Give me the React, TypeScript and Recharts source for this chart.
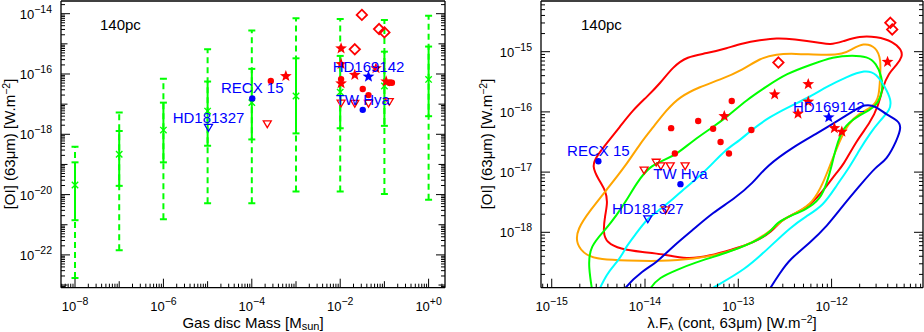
import React from 'react';
import { ComposedChart, Scatter, Line, XAxis, YAxis, ErrorBar } from 'recharts';

const FONT = '"Liberation Sans", Arial, Helvetica, sans-serif';
const RED = '#ff0000';
const BLUE = '#0000ff';
const GREEN = '#00ff00';
const ORANGE = '#ffa500';
const CYAN = '#00ffff';
const NAVY = '#0000dd';
const INK = '#000000';

const p10 = (e: number) => Math.pow(10, e);

// ---------------- LEFT PANEL (values are log10) ----------------
const leftXDomainExp = [-8.317, 0.371];
const leftYDomainExp = [-23.088, -13.579];
const leftXTickExps = [-8, -6, -4, -2, 0];
const leftXTickSup = ['\u22128', '\u22126', '\u22124', '\u22122', '+0'];
const leftYTickExps = [-22, -20, -18, -16, -14];
const leftYTickSup = ['\u221222', '\u221220', '\u221218', '\u221216', '\u221214'];

const gasMassExp = [-8, -7, -6, -5, -4, -3, -2, -1, 0];
const greenMidExp = [-19.68, -18.66, -17.86, -17.23, -16.95, -16.73, -16.6, -16.4, -16.18];
const greenInnerHiExp = [-18.93, -17.89, -16.95, -16.25, -15.83, -15.48, -15.4, -15.26, -15.09];
const greenInnerLoExp = [-20.85, -19.71, -18.93, -18.38, -18.17, -17.97, -17.8, -17.72, -17.4];
const greenOuterHiExp = [-18.41, -17.28, -16.16, -15.18, -14.56, -14.15, -14.18, -14.21, -14.07];
const greenOuterLoExp = [-22.77, -21.85, -20.82, -20.29, -20.29, -19.9, -19.9, -19.98, -20.17];

const leftRedStars = [[-3.23, -16.07], [-1.98, -15.15], [-1.98, -15.67], [-1.67, -16.03], [-1.19, -15.81], [-1.98, -16.31], [-0.96, -16.25]];
const leftRedDots = [[-3.57, -16.23], [-1.98, -16.17], [-1.49, -16.5], [-1.36, -16.7], [-0.89, -16.29], [-0.83, -16.29]];
const leftRedDiamonds = [[-1.51, -14.04], [-1.12, -14.51], [-1.0, -14.62], [-1.67, -15.18]];
const leftRedTriangles = [[-3.65, -17.66], [-1.98, -16.97], [-1.67, -16.98], [-1.36, -16.98], [-0.89, -16.92]];
const leftBlueStars = [[-1.36, -16.09]];
const leftBlueDots = [[-3.99, -16.81], [-1.49, -17.19]];
const leftBlueTriangles = [[-4.98, -17.78]];
const leftBlueNames = ['HD169142', 'RECX 15', 'TW Hya', 'HD181327'];
const leftBlueNamePos = [[-1.36, -16.09], [-3.99, -16.81], [-1.49, -17.19], [-4.98, -17.78]];

// ---------------- RIGHT PANEL (values are log10) ----------------
const rightXDomainExp = [-15.115, -11.02];
const rightYDomainExp = [-18.92, -14.158];
const rightXTickExps = [-15, -14, -13, -12];
const rightXTickSup = ['\u221215', '\u221214', '\u221213', '\u221212'];
const rightYTickExps = [-18, -17, -16, -15];
const rightYTickSup = ['\u221218', '\u221217', '\u221216', '\u221215'];

const redContour = [[-14.57, -16.9], [-14.5, -17.12], [-14.42, -17.31], [-14.4, -17.51], [-14.43, -17.73], [-14.45, -18.01], [-14.41, -18.17], [-14.27, -18.28], [-14.02, -18.33], [-13.81, -18.36], [-13.55, -18.45], [-13.3, -18.39], [-13.06, -18.28], [-12.84, -18.18], [-12.63, -17.98], [-12.55, -17.81], [-12.41, -17.7], [-12.23, -17.56], [-12.05, -17.23], [-11.95, -17.01], [-11.88, -16.9], [-11.73, -16.47], [-11.59, -16.19], [-11.5, -15.91], [-11.45, -15.58], [-11.39, -15.36], [-11.3, -15.22], [-11.24, -15.08], [-11.25, -14.97], [-11.34, -14.83], [-11.52, -14.75], [-11.7, -14.74], [-11.88, -14.83], [-12.02, -14.89], [-12.12, -14.85], [-12.41, -14.79], [-12.59, -14.77], [-12.77, -14.81], [-12.95, -14.86], [-13.12, -14.94], [-13.34, -15.03], [-13.55, -15.08], [-13.7, -15.25], [-13.84, -15.53], [-13.98, -15.75], [-14.13, -15.97], [-14.27, -16.25], [-14.41, -16.52], [-14.52, -16.74]];
const orangeContour = [[-14.21, -16.9], [-14.41, -17.29], [-14.58, -17.62], [-14.73, -17.95], [-14.74, -18.2], [-14.63, -18.39], [-14.48, -18.45], [-14.2, -18.47], [-13.84, -18.48], [-13.48, -18.45], [-13.12, -18.34], [-12.84, -18.17], [-12.63, -17.95], [-12.52, -17.78], [-12.37, -17.67], [-12.2, -17.51], [-12.09, -17.18], [-12.02, -16.9], [-11.91, -16.47], [-11.82, -16.19], [-11.7, -16.02], [-11.55, -15.91], [-11.49, -15.75], [-11.48, -15.42], [-11.47, -15.14], [-11.52, -14.92], [-11.66, -14.85], [-11.79, -14.97], [-11.88, -15.04], [-12.05, -15.06], [-12.41, -15.03], [-12.59, -15.04], [-12.77, -15.11], [-12.95, -15.3], [-13.2, -15.47], [-13.41, -15.58], [-13.63, -15.75], [-13.77, -15.97], [-13.91, -16.25], [-14.05, -16.52]];
const greenContour = [[-14.55, -19.12], [-14.61, -18.56], [-14.59, -18.23], [-14.42, -17.95], [-14.31, -17.73], [-14.19, -17.45], [-14.09, -17.18], [-13.95, -16.9], [-13.79, -16.8], [-13.65, -16.69], [-13.48, -16.47], [-13.27, -16.25], [-13.12, -16.08], [-12.91, -15.8], [-12.7, -15.58], [-12.48, -15.36], [-12.23, -15.22], [-11.98, -15.08], [-11.77, -15.06], [-11.62, -15.08], [-11.52, -15.19], [-11.46, -15.42], [-11.45, -15.64], [-11.5, -15.86], [-11.59, -15.97], [-11.73, -16.08], [-11.88, -16.25], [-11.96, -16.63], [-12.0, -16.9], [-12.05, -17.18], [-12.12, -17.45], [-12.27, -17.62], [-12.45, -17.73], [-12.59, -17.84], [-12.66, -18.01], [-12.84, -18.17], [-13.12, -18.34], [-13.48, -18.51], [-13.65, -18.62], [-13.85, -18.75], [-13.95, -18.93], [-14.0, -19.12]];
const cyanContour = [[-14.54, -19.12], [-14.41, -18.67], [-14.27, -18.45], [-14.2, -18.23], [-14.09, -18.01], [-13.98, -17.78], [-13.84, -17.62], [-13.7, -17.45], [-13.59, -17.29], [-13.44, -17.1], [-13.3, -16.9], [-13.14, -16.63], [-12.98, -16.47], [-12.86, -16.3], [-12.66, -16.08], [-12.45, -15.91], [-12.23, -15.75], [-12.05, -15.58], [-11.84, -15.42], [-11.64, -15.3], [-11.52, -15.36], [-11.43, -15.58], [-11.36, -15.8], [-11.37, -15.97], [-11.48, -16.14], [-11.59, -16.36], [-11.7, -16.63], [-11.8, -16.9], [-11.95, -17.23], [-12.09, -17.56], [-12.27, -17.73], [-12.45, -17.93], [-12.64, -18.21], [-12.93, -18.63], [-13.29, -18.93], [-13.41, -19.06]];
const blueContour = [[-14.28, -19.12], [-14.23, -18.93], [-14.02, -18.63], [-13.88, -18.51], [-13.7, -18.23], [-13.48, -17.95], [-13.27, -17.67], [-13.05, -17.45], [-12.84, -17.18], [-12.7, -16.9], [-12.41, -16.58], [-12.16, -16.36], [-11.98, -16.19], [-11.8, -16.02], [-11.64, -15.86], [-11.52, -15.91], [-11.41, -16.05], [-11.29, -16.14], [-11.25, -16.25], [-11.3, -16.47], [-11.41, -16.8], [-11.52, -16.9], [-11.7, -17.23], [-11.88, -17.56], [-12.05, -17.9], [-12.23, -18.17], [-12.45, -18.45], [-12.55, -18.67], [-12.66, -18.93], [-12.73, -19.12]];

const rightRedDiamonds = [[-11.37, -14.52], [-11.35, -14.63], [-12.57, -15.18]];
const rightRedStars = [[-11.4, -15.17], [-12.25, -15.54], [-12.61, -15.71], [-13.15, -16.07], [-12.36, -16.03], [-12.25, -15.83], [-11.97, -16.27], [-11.89, -16.33]];
const rightRedDots = [[-13.72, -16.27], [-13.43, -16.15], [-13.27, -16.28], [-13.19, -16.5], [-13.1, -16.69], [-13.68, -16.69], [-13.07, -15.82], [-12.86, -16.3]];
const rightRedTriangles = [[-14.01, -16.97], [-13.88, -16.84], [-13.83, -16.9], [-13.73, -16.9], [-13.57, -16.9], [-13.78, -17.63]];
const rightBlueStars = [[-12.03, -16.09]];
const rightBlueDots = [[-14.5, -16.82], [-13.62, -17.2]];
const rightBlueTriangles = [[-13.97, -17.78]];
const rightBlueNames = ['HD169142', 'RECX 15', 'TW Hya', 'HD181327'];
const rightBlueNamePos = [[-12.03, -16.09], [-14.5, -16.82], [-13.62, -17.2], [-13.97, -17.78]];

// ---------------- helpers ----------------
const toPts = (arr: number[][]) => arr.map((p) => ({ x: p10(p[0]), y: p10(p[1]) }));
const toNamed = (arr: number[][], names: string[]) => arr.map((p, i) => ({ x: p10(p[0]), y: p10(p[1]), label: names[i] }));

function logTicks(dom: number[]) {
  const out: number[] = [];
  for (let n = Math.floor(dom[0]); n <= Math.ceil(dom[1]); n++) {
    for (let k = 1; k <= 9; k++) {
      const v = k * p10(n);
      const e = Math.log10(v);
      if (e >= dom[0] - 1e-9 && e <= dom[1] + 1e-9) out.push(v);
    }
  }
  return out;
}

function makeTick(side: string, exps: number[], sups: string[]) {
  return (props: any) => {
    const { x, y, payload } = props;
    const e = Math.log10(Number(payload.value));
    const n = Math.round(e);
    const decade = Math.abs(e - n) < 1e-4;
    const idx = decade ? exps.indexOf(n) : -1;
    const len = decade ? (idx >= 0 ? 9 : 6.5) : 4;
    let x2 = x;
    let y2 = y;
    if (side === 'bottom') y2 = y - len;
    else if (side === 'top') y2 = y + len;
    else if (side === 'left') x2 = x + len;
    else x2 = x - len;
    return (
      <g>
        <line x1={x} y1={y} x2={x2} y2={y2} stroke={INK} strokeWidth={1} />
        {idx >= 0 && side === 'bottom' && (
          <text x={x} y={y + 23} textAnchor="middle" fontSize={13} fontFamily={FONT} fill={INK}>
            10<tspan dy={-6} fontSize={10.5}>{sups[idx]}</tspan>
          </text>
        )}
        {idx >= 0 && side === 'left' && (
          <text x={x - 9} y={y + 5} textAnchor="end" fontSize={13} fontFamily={FONT} fill={INK}>
            10<tspan dy={-6} fontSize={10.5}>{sups[idx]}</tspan>
          </text>
        )}
      </g>
    );
  };
}

function starPoints(cx: number, cy: number, R: number, r: number) {
  const pts: string[] = [];
  for (let i = 0; i < 10; i++) {
    const a = -Math.PI / 2 + (i * Math.PI) / 5;
    const rad = i % 2 === 0 ? R : r;
    pts.push(`${cx + rad * Math.cos(a)},${cy + rad * Math.sin(a)}`);
  }
  return pts.join(' ');
}

const starShape = (color: string) => (p: any) => <polygon points={starPoints(p.cx, p.cy, 6.2, 2.6)} fill={color} />;
const dotShape = (color: string) => (p: any) => <circle cx={p.cx} cy={p.cy} r={3.2} fill={color} />;
const diamondShape = (p: any) => (
  <polygon
    points={`${p.cx},${p.cy - 5.2} ${p.cx + 5.2},${p.cy} ${p.cx},${p.cy + 5.2} ${p.cx - 5.2},${p.cy}`}
    fill="none"
    stroke={RED}
    strokeWidth={1.8}
  />
);
const triShape = (color: string) => (p: any) => (
  <polygon
    points={`${p.cx - 4},${p.cy - 3.2} ${p.cx + 4},${p.cy - 3.2} ${p.cx},${p.cy + 3.6}`}
    fill="none"
    stroke={color}
    strokeWidth={1.3}
  />
);
const xShape = (p: any) => (
  <path
    d={`M${p.cx - 3.2},${p.cy - 3.2}L${p.cx + 3.2},${p.cy + 3.2}M${p.cx - 3.2},${p.cy + 3.2}L${p.cx + 3.2},${p.cy - 3.2}`}
    stroke={GREEN}
    strokeWidth={1.4}
  />
);
const capShape = (p: any) => <line x1={p.cx - 3.5} x2={p.cx + 3.5} y1={p.cy} y2={p.cy} stroke={GREEN} strokeWidth={2} />;
const nameShape = (p: any) => (
  <text x={p.cx} y={p.cy - 5} textAnchor="middle" fontSize={15} fontFamily={FONT} fill={BLUE}>
    {p.payload.label}
  </text>
);
const noShape = () => <g />;

// green model bars
const greenBars = gasMassExp.map((m, i) => {
  const c = p10(greenMidExp[i]);
  return {
    x: p10(m),
    y: c,
    inner: [c - p10(greenInnerLoExp[i]), p10(greenInnerHiExp[i]) - c],
    outer: [c - p10(greenOuterLoExp[i]), p10(greenOuterHiExp[i]) - c],
  };
});
const greenCaps = gasMassExp.flatMap((m, i) => [
  { x: p10(m), y: p10(greenOuterHiExp[i]) },
  { x: p10(m), y: p10(greenOuterLoExp[i]) },
]);

const leftXTicks = logTicks(leftXDomainExp);
const leftYTicks = logTicks(leftYDomainExp);
const rightXTicks = logTicks(rightXDomainExp);
const rightYTicks = logTicks(rightYDomainExp);

const axisLine = { stroke: INK, strokeWidth: 1.3 };

function LeftPanel() {
  const xDom = [p10(leftXDomainExp[0]), p10(leftXDomainExp[1])];
  const yDom = [p10(leftYDomainExp[0]), p10(leftYDomainExp[1])];
  return (
    <ComposedChart width={460} height={332} margin={{ top: 0, right: 0, bottom: 0, left: 0 }}>
      <XAxis
        dataKey="x"
        type="number"
        scale="log"
        domain={xDom}
        allowDataOverflow
        ticks={leftXTicks}
        interval={0}
        tick={makeTick('bottom', leftXTickExps, leftXTickSup)}
        tickLine={false}
        tickSize={0}
        tickMargin={0}
        height={44.3}
        axisLine={axisLine}
        label={{
          content: () => (
            <text x={253} y={328} textAnchor="middle" fontSize={15} fontFamily={FONT} fill={INK}>
              Gas disc Mass [M<tspan fontSize={11} dy={2}>sun</tspan>
              <tspan fontSize={15} dy={-2}>]</tspan>
            </text>
          ),
        }}
      />
      <XAxis
        xAxisId="top"
        orientation="top"
        type="number"
        scale="log"
        domain={xDom}
        allowDataOverflow
        ticks={leftXTicks}
        interval={0}
        tick={makeTick('top', leftXTickExps, leftXTickSup)}
        tickLine={false}
        tickSize={0}
        tickMargin={0}
        height={1}
        axisLine={axisLine}
        label={{
          content: () => (
            <text x={100} y={30} fontSize={15} fontFamily={FONT} fill={INK}>
              140pc
            </text>
          ),
        }}
      />
      <YAxis
        dataKey="y"
        type="number"
        scale="log"
        domain={yDom}
        allowDataOverflow
        ticks={leftYTicks}
        interval={0}
        tick={makeTick('left', leftYTickExps, leftYTickSup)}
        tickLine={false}
        tickSize={0}
        tickMargin={0}
        width={61}
        axisLine={axisLine}
        label={{
          content: () => (
            <text x={15} y={144} transform="rotate(-90, 15, 144)" textAnchor="middle" fontSize={15} fontFamily={FONT} fill={INK}>
              [OI] (63{'\u03bc'}m) [W.m<tspan fontSize={10.5} dy={-5}>{'\u22122'}</tspan>
              <tspan fontSize={15} dy={5}>]</tspan>
            </text>
          ),
        }}
      />
      <YAxis
        yAxisId="right"
        orientation="right"
        type="number"
        scale="log"
        domain={yDom}
        allowDataOverflow
        ticks={leftYTicks}
        interval={0}
        tick={makeTick('right', leftYTickExps, leftYTickSup)}
        tickLine={false}
        tickSize={0}
        tickMargin={0}
        width={15}
        axisLine={axisLine}
      />

      <Scatter data={greenBars} shape={noShape} isAnimationActive={false}>
        <ErrorBar dataKey="outer" direction="y" width={0} stroke={GREEN} strokeWidth={2} strokeDasharray="6 4" isAnimationActive={false} />
      </Scatter>
      <Scatter data={greenBars} shape={xShape} isAnimationActive={false}>
        <ErrorBar dataKey="inner" direction="y" width={3.5} stroke={GREEN} strokeWidth={2} isAnimationActive={false} />
      </Scatter>
      <Scatter data={greenCaps} shape={capShape} isAnimationActive={false} />

      <Scatter data={toPts(leftRedTriangles)} shape={triShape(RED)} isAnimationActive={false} />
      <Scatter data={toPts(leftRedDiamonds)} shape={diamondShape} isAnimationActive={false} />
      <Scatter data={toPts(leftRedDots)} shape={dotShape(RED)} isAnimationActive={false} />
      <Scatter data={toPts(leftRedStars)} shape={starShape(RED)} isAnimationActive={false} />
      <Scatter data={toPts(leftBlueTriangles)} shape={triShape(BLUE)} isAnimationActive={false} />
      <Scatter data={toPts(leftBlueDots)} shape={dotShape(BLUE)} isAnimationActive={false} />
      <Scatter data={toPts(leftBlueStars)} shape={starShape(BLUE)} isAnimationActive={false} />
      <Scatter data={toNamed(leftBlueNamePos, leftBlueNames)} shape={nameShape} isAnimationActive={false} />
    </ComposedChart>
  );
}

function RightPanel() {
  const xDom = [p10(rightXDomainExp[0]), p10(rightXDomainExp[1])];
  const yDom = [p10(rightYDomainExp[0]), p10(rightYDomainExp[1])];
  const contours: [number[][], string, string][] = [
    [redContour, RED, 'basisClosed'],
    [orangeContour, ORANGE, 'basisClosed'],
    [greenContour, GREEN, 'basis'],
    [cyanContour, CYAN, 'basis'],
    [blueContour, NAVY, 'basis'],
  ];
  return (
    <ComposedChart width={464} height={332} margin={{ top: 0, right: 0, bottom: 0, left: 0 }}>
      <XAxis
        dataKey="x"
        type="number"
        scale="log"
        domain={xDom}
        allowDataOverflow
        ticks={rightXTicks}
        interval={0}
        tick={makeTick('bottom', rightXTickExps, rightXTickSup)}
        tickLine={false}
        tickSize={0}
        tickMargin={0}
        height={44.3}
        axisLine={axisLine}
        label={{
          content: () => (
            <text x={272} y={328} textAnchor="middle" fontSize={15} fontFamily={FONT} fill={INK}>
              {'\u03bb'}.F<tspan fontSize={11} dy={2}>{'\u03bb'}</tspan>
              <tspan fontSize={15} dy={-2}> (cont, 63{'\u03bc'}m) [W.m</tspan>
              <tspan fontSize={10.5} dy={-5}>{'\u22122'}</tspan>
              <tspan fontSize={15} dy={5}>]</tspan>
            </text>
          ),
        }}
      />
      <XAxis
        xAxisId="top"
        orientation="top"
        type="number"
        scale="log"
        domain={xDom}
        allowDataOverflow
        ticks={rightXTicks}
        interval={0}
        tick={makeTick('top', rightXTickExps, rightXTickSup)}
        tickLine={false}
        tickSize={0}
        tickMargin={0}
        height={1}
        axisLine={axisLine}
        label={{
          content: () => (
            <text x={121} y={30} fontSize={15} fontFamily={FONT} fill={INK}>
              140pc
            </text>
          ),
        }}
      />
      <YAxis
        dataKey="y"
        type="number"
        scale="log"
        domain={yDom}
        allowDataOverflow
        ticks={rightYTicks}
        interval={0}
        tick={makeTick('left', rightYTickExps, rightYTickSup)}
        tickLine={false}
        tickSize={0}
        tickMargin={0}
        width={81}
        axisLine={axisLine}
        label={{
          content: () => (
            <text x={32} y={144} transform="rotate(-90, 32, 144)" textAnchor="middle" fontSize={15} fontFamily={FONT} fill={INK}>
              [OI] (63{'\u03bc'}m) [W.m<tspan fontSize={10.5} dy={-5}>{'\u22122'}</tspan>
              <tspan fontSize={15} dy={5}>]</tspan>
            </text>
          ),
        }}
      />
      <YAxis
        yAxisId="right"
        orientation="right"
        type="number"
        scale="log"
        domain={yDom}
        allowDataOverflow
        ticks={rightYTicks}
        interval={0}
        tick={makeTick('right', rightYTickExps, rightYTickSup)}
        tickLine={false}
        tickSize={0}
        tickMargin={0}
        width={1}
        axisLine={axisLine}
      />

      {contours.map(([pts, color, curve], i) => (
        <Line
          key={'c' + i}
          data={toPts(pts)}
          dataKey="y"
          type={curve as any}
          stroke={color}
          strokeWidth={2}
          dot={false}
          activeDot={false}
          isAnimationActive={false}
        />
      ))}

      <Scatter data={toPts(rightRedTriangles)} shape={triShape(RED)} isAnimationActive={false} />
      <Scatter data={toPts(rightRedDiamonds)} shape={diamondShape} isAnimationActive={false} />
      <Scatter data={toPts(rightRedDots)} shape={dotShape(RED)} isAnimationActive={false} />
      <Scatter data={toPts(rightRedStars)} shape={starShape(RED)} isAnimationActive={false} />
      <Scatter data={toPts(rightBlueTriangles)} shape={triShape(BLUE)} isAnimationActive={false} />
      <Scatter data={toPts(rightBlueDots)} shape={dotShape(BLUE)} isAnimationActive={false} />
      <Scatter data={toPts(rightBlueStars)} shape={starShape(BLUE)} isAnimationActive={false} />
      <Scatter data={toNamed(rightBlueNamePos, rightBlueNames)} shape={nameShape} isAnimationActive={false} />
    </ComposedChart>
  );
}

export default function App() {
  return (
    <div style={{ position: 'absolute', left: 0, top: 0, width: 924, height: 332, background: '#fff', fontFamily: FONT }}>
      <div style={{ position: 'absolute', left: 0, top: 0 }}>
        <LeftPanel />
      </div>
      <div style={{ position: 'absolute', left: 460, top: 0 }}>
        <RightPanel />
      </div>
    </div>
  );
}
